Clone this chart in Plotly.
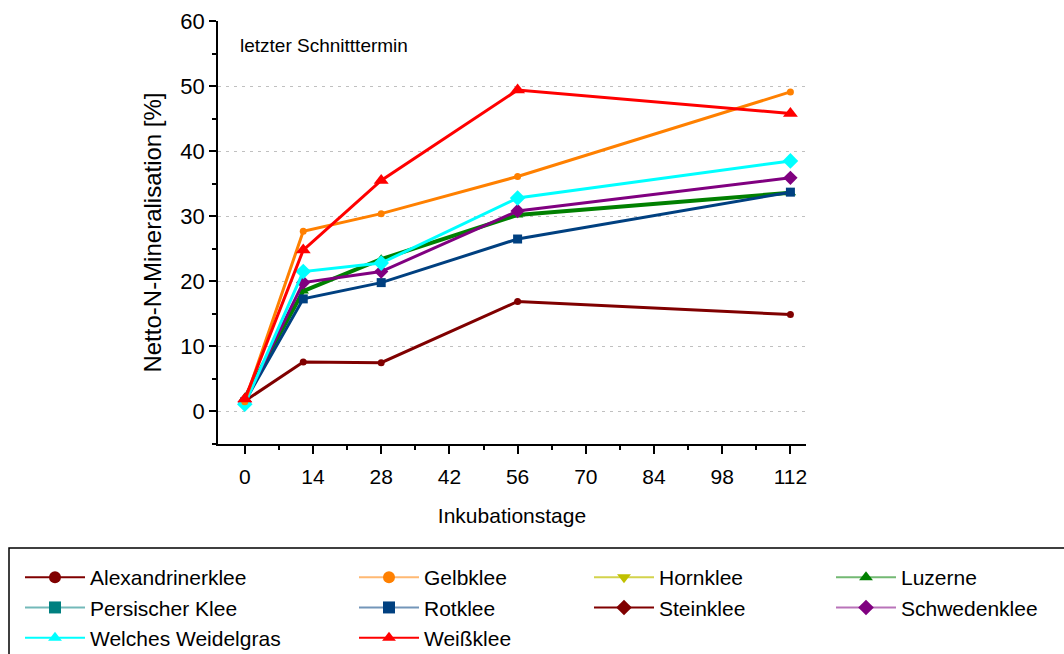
import plotly.graph_objects as go

days = [0, 12, 28, 56, 112]

alexandrinerklee = [1.6, 7.6, 7.5, 16.9, 14.9]
gelbklee = [1.5, 27.7, 30.4, 36.1, 49.1]
luzerne = [2.1, 18.5, 23.4, 30.2, 33.6]
rotklee = [1.5, 17.3, 19.8, 26.5, 33.7]
schwedenklee = [1.5, 19.8, 21.5, 30.8, 35.9]
weidelgras = [1.1, 21.5, 22.8, 32.8, 38.5]
weissklee = [1.9, 24.8, 35.5, 49.4, 45.8]

x_ticks = [0, 14, 28, 42, 56, 70, 84, 98, 112]
y_ticks = [0, 10, 20, 30, 40, 50, 60]

FONT = "Liberation Sans, Arial, sans-serif"

fig = go.Figure()

plot_series = [
    ("Alexandrinerklee", alexandrinerklee, "#800000", "circle", 7, 3),
    ("Luzerne", luzerne, "#008000", "triangle-up", 10, 4),
    ("Rotklee", rotklee, "#004080", "square", 9, 3),
    ("Schwedenklee", schwedenklee, "#800080", "diamond", 11, 3),
    ("Welches Weidelgras", weidelgras, "#00FFFF", "diamond", 12, 3),
    ("Gelbklee", gelbklee, "#FF8000", "circle", 7, 3),
    ("Weißklee", weissklee, "#FF0000", "triangle-up", 13, 3),
]
for name, vals, col, sym, size, lw in plot_series:
    fig.add_trace(go.Scatter(
        x=days, y=vals, mode="lines+markers", name=name, showlegend=False,
        line=dict(color=col, width=lw),
        marker=dict(symbol=sym, size=size, color=col),
    ))

# legend entries (4 columns)
legend_cols = [
    ("legend", [
        ("Alexandrinerklee", "#800000", "#800000", "circle"),
        ("Persischer Klee", "#008080", "rgba(0,128,128,0.55)", "square"),
        ("Welches Weidelgras", "#00FFFF", "#00FFFF", "triangle-up"),
    ]),
    ("legend2", [
        ("Gelbklee", "#FF8000", "rgba(255,128,0,0.55)", "circle"),
        ("Rotklee", "#004080", "rgba(0,64,128,0.55)", "square"),
        ("Weißklee", "#FF0000", "#FF0000", "triangle-up"),
    ]),
    ("legend3", [
        ("Hornklee", "#C0C000", "rgba(192,192,0,0.7)", "triangle-down"),
        ("Steinklee", "#800000", "#800000", "diamond"),
    ]),
    ("legend4", [
        ("Luzerne", "#008000", "rgba(0,128,0,0.55)", "triangle-up"),
        ("Schwedenklee", "#800080", "rgba(128,0,128,0.55)", "diamond"),
    ]),
]
for lg, items in legend_cols:
    for name, mcol, lcol, sym in items:
        fig.add_trace(go.Scatter(
            x=[None], y=[None], mode="lines+markers", name=name, legend=lg,
            line=dict(color=lcol, width=2),
            marker=dict(symbol=sym, size=12, color=mcol),
        ))

W, H = 1064, 654
L, R, T, B = 218, 258, 21, 210
pw, ph = W - L - R, H - T - B


def px2x(px):
    return (px - L) / pw


def px2y(py):
    return (H - B - py) / ph


legend_x = [20, 354, 589, 831]
common_legend = dict(
    font=dict(family=FONT, size=21, color="#000000"),
    bgcolor="rgba(0,0,0,0)", borderwidth=0,
    xref="paper", yref="container",
    xanchor="left", yanchor="top", orientation="v",
    itemwidth=60, tracegroupgap=0,
)
layout_legends = {}
for (lg, _), lx in zip(legend_cols, legend_x):
    layout_legends[lg] = dict(common_legend, x=px2x(lx), y=(H - 557) / H)

fig.update_layout(
    width=W, height=H,
    margin=dict(l=L, r=R, t=T, b=B),
    paper_bgcolor="white", plot_bgcolor="white",
    font=dict(family=FONT, size=21, color="#000000"),
    **layout_legends,
    xaxis=dict(
        range=[-5.5, 115.2], tickvals=x_ticks, ticktext=[str(v) for v in x_ticks],
        ticks="outside", ticklen=8, tickwidth=1.5, tickcolor="black",
        showline=True, linecolor="black", linewidth=1.5,
        showgrid=False, zeroline=False,
        tickfont=dict(size=21), ticklabelstandoff=5,
        minor=dict(tickvals=[7, 21, 35, 49, 63, 77, 91, 105], ticks="outside", ticklen=4, tickwidth=1.5, tickcolor="black"),
        title=dict(text="Inkubationstage", font=dict(size=21), standoff=21),
        automargin=False,
    ),
    yaxis=dict(
        range=[-5, 60], tickvals=y_ticks,
        ticks="outside", ticklen=7, tickwidth=1.5, tickcolor="black",
        showline=True, linecolor="black", linewidth=1.5,
        showgrid=True, gridcolor="#C0C0C0", gridwidth=1, griddash="3px,5px",
        zeroline=False,
        tickfont=dict(size=22),
        minor=dict(tickvals=[-5, 5, 15, 25, 35, 45, 55], ticks="outside", ticklen=4, tickwidth=1.5, tickcolor="black"),
        title=dict(text="Netto-N-Mineralisation [%]", font=dict(size=24), standoff=12),
        automargin=False,
    ),
    annotations=[dict(
        text="letzter Schnitttermin", xref="paper", yref="paper",
        x=px2x(238), y=px2y(46), xanchor="left", yanchor="middle",
        showarrow=False, font=dict(family=FONT, size=19, color="#000000"),
    )],
    shapes=[dict(
        type="rect", xref="paper", yref="paper",
        x0=px2x(9), x1=px2x(1070), y0=px2y(548), y1=px2y(660),
        line=dict(color="black", width=1.5), fillcolor="rgba(0,0,0,0)",
    )],
)

fig.write_html("out.html")
